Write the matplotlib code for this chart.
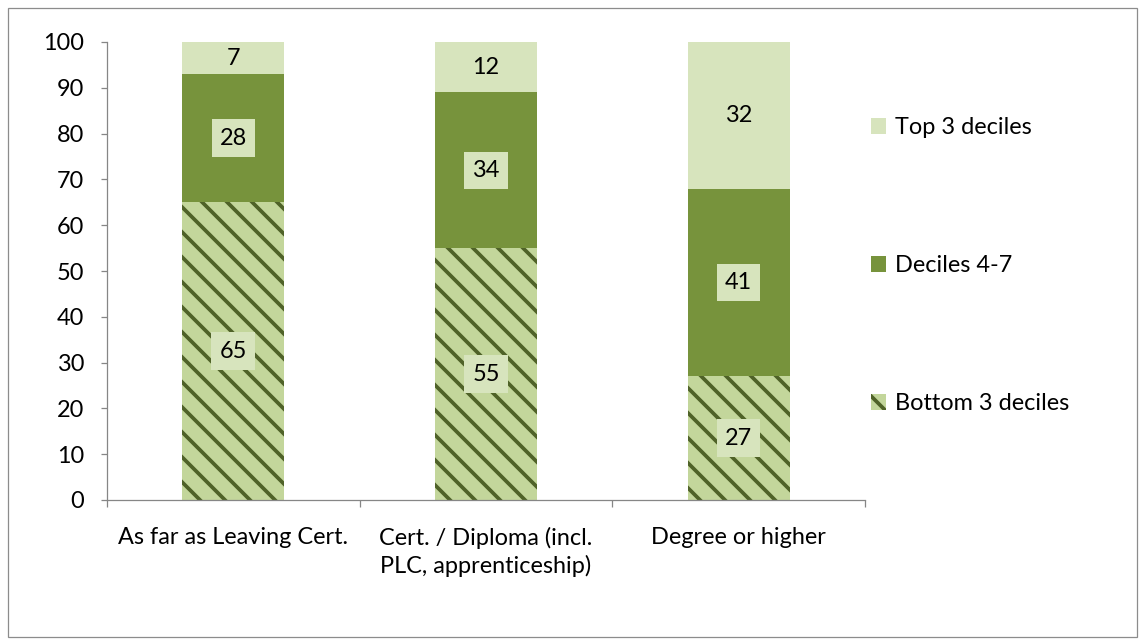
import numpy as np
import matplotlib
matplotlib.use("Agg")
import matplotlib.pyplot as plt
from matplotlib.patches import Rectangle, Patch

plt.rcParams["font.family"] = ["Lato", "DejaVu Sans"]
plt.rcParams["hatch.linewidth"] = 3.6

categories = ["As far as Leaving Cert.", "Cert. / Diploma (incl.\nPLC, apprenticeship)", "Degree or higher"]
bottom3 = [65, 55, 27]
deciles47 = [28, 34, 41]
top3 = [7, 12, 32]
yticks = list(range(0, 101, 10))

c_top = "#D7E4BD"
c_mid = "#77933C"
c_bot = "#C3D69B"
c_hatch = "#4F6228"
c_axis = "#868686"
fs = 22.5

fig = plt.figure(figsize=(15.2, 641 / 75), dpi=75)
ax = fig.add_axes([107 / 1140, 141 / 641, 758 / 1140, 458 / 641])

x = np.arange(len(categories))
w = 0.405
b1 = np.array(bottom3)
b2 = b1 + np.array(deciles47)
ax.bar(x, bottom3, w, color=c_bot, edgecolor=c_hatch, hatch="\\", linewidth=0)
ax.bar(x, deciles47, w, bottom=b1, color=c_mid, linewidth=0)
ax.bar(x, top3, w, bottom=b2, color=c_top, linewidth=0)


def label(xp, yp, val, pad=0.35):
    ax.text(xp, yp, str(val), ha="center", va="center", fontsize=fs,
            bbox=dict(boxstyle=f"square,pad={pad}", fc=c_top, ec="none"))


for i in range(len(categories)):
    label(x[i], bottom3[i] / 2, bottom3[i])
    label(x[i], b1[i] + deciles47[i] / 2, deciles47[i])
    top_y = (b2[i] + 100) / 2
    label(x[i], top_y, top3[i], pad=0.35 if 100 - b2[i] > 9 else 0.1)

ax.set_xlim(-0.5, 2.5)
ax.set_ylim(0, 100)
ax.set_yticks(yticks)
ax.set_xticks(x)
ax.set_xticklabels(categories, fontsize=fs, linespacing=1.3)
ax.set_xticks([-0.5, 0.5, 1.5, 2.5], minor=True)
ax.tick_params(axis="x", which="major", length=0, pad=26)
ax.tick_params(axis="x", which="minor", length=7, color=c_axis, width=1.2)
ax.tick_params(axis="y", length=6, color=c_axis, width=1.2, labelsize=fs, pad=16)
for s in ["top", "right"]:
    ax.spines[s].set_visible(False)
for s in ["left", "bottom"]:
    ax.spines[s].set_color(c_axis)
    ax.spines[s].set_linewidth(1.2)

handles = [Patch(fc=c_top, ec="none", label="Top 3 deciles"),
           Patch(fc=c_mid, ec="none", label="Deciles 4-7"),
           Patch(fc=c_bot, ec=c_hatch, hatch="\\", lw=0, label="Bottom 3 deciles")]
fig.legend(handles=handles, loc="upper left", bbox_to_anchor=(850 / 1140, 1 - 96 / 641),
           frameon=False, fontsize=fs, labelspacing=5.0, handlelength=0.65,
           handleheight=0.65, handletextpad=0.35)

fig.patches.append(Rectangle((8 / 1140, 4 / 641), 1129 / 1140, 629 / 641,
                             transform=fig.transFigure, fill=False,
                             ec="#8C8C8C", lw=1.2))

fig.savefig("out.png", dpi=75)
